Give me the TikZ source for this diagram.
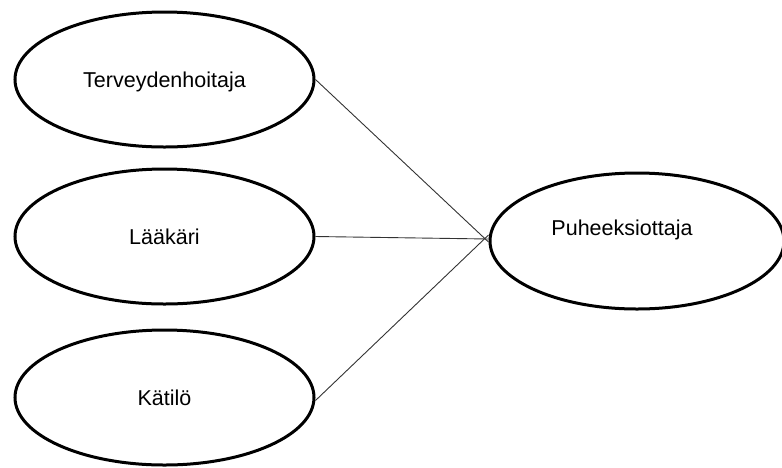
\documentclass[tikz,border=0pt]{standalone}
\usepackage{fontspec}
\setmainfont{Liberation Sans}
\usetikzlibrary{shapes.geometric}

\tikzset{
  role/.style={ellipse, draw=black, line width=3pt, fill=white,
    minimum width=299pt, minimum height=135pt, inner sep=0pt,
    font=\fontsize{21.5pt}{24pt}\selectfont, text height=15.4pt, text depth=0pt},
  caption/.style={inner sep=0pt,
    font=\fontsize{21.5pt}{24pt}\selectfont, text height=15.4pt, text depth=0pt},
  link/.style={draw=black!80, line width=0.9pt}
}

\begin{document}
\begin{tikzpicture}[x=1pt, y=-1pt]
  \useasboundingbox (0,0) rectangle (782,467);

  % three roles on the left
  \node[role] (th) at (164.5,79.5) {Terveydenhoitaja};
  \node[role] (la) at (164.5,236.5) {Lääkäri};
  \node[role] (ka) at (164.5,397.5) {Kätilö};

  % the role they all connect to
  \node[role, minimum width=294pt, minimum height=136pt] (pu) at (637,241) {};
  \node[caption] (pulabel) at (622,228) {Puheeksiottaja};

  % connectors
  \draw[link] (th.east) -- ([yshift=-1pt]pu.west);
  \draw[link] (la.east) -- ([yshift=2pt]pu.west);
  \draw[link] ([yshift=-3pt]ka.east) -- ([yshift=6pt]pu.west);
\end{tikzpicture}
\end{document}
